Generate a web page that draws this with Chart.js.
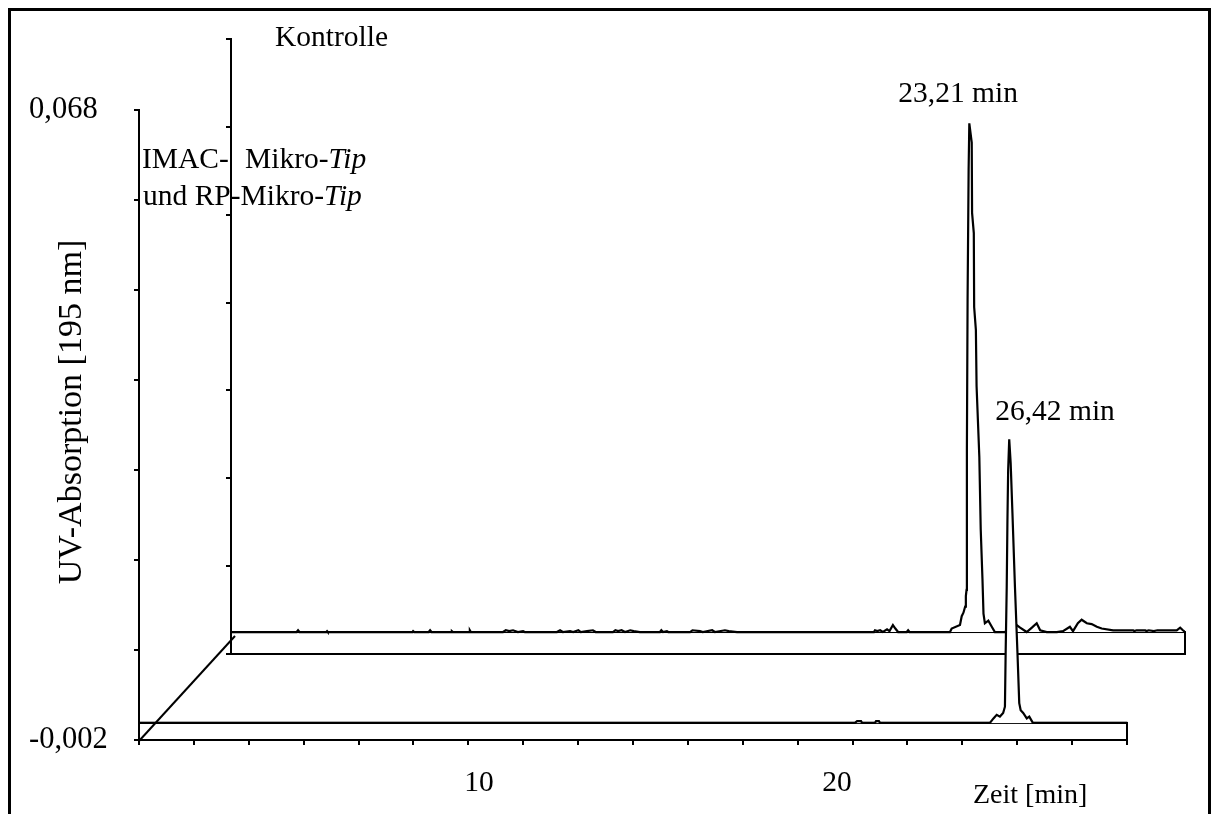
<!DOCTYPE html>
<html>
<head>
<meta charset="utf-8">
<script src="https://cdn.jsdelivr.net/npm/chart.js@4.4.0/dist/chart.umd.min.js"></script>
<style>
	html, body { margin: 0; padding: 0; background: #fff; overflow: hidden; }
	#frame { position: absolute; left: 8px; top: 8px; width: 1197px; height: 830px; border: 3px solid #000; }
	canvas { position: absolute; left: 0; top: 0; }
</style>
</head>
<body>
<div id="frame"></div>
<canvas id="chart-back" width="1215" height="814"></canvas>
<canvas id="chart-front" width="1215" height="814"></canvas>
<script>
// time axis (min) and absorption axis
const time_range = [0.5, 28.1];
const time_tick_intervals = 18;
const time_labels = [10, 20];
const abs_ticks = [-0.002, 0.008, 0.018, 0.028, 0.038, 0.048, 0.058, 0.068];
const abs_tick_labels = ['-0,002', '', '', '', '', '', '', '0,068'];

const y_title = 'UV-Absorption [195 nm]';
const x_title = 'Zeit [min]';
const peak_labels = ['23,21 min', '26,42 min'];

// baseline (ribbon top) of each trace
const kontrolle_base = 0.0005;
const imac_base = -0.0001;

// Kontrolle (back trace): [time, absorption]
const kontrolle_data = [
	[0.5, 0.0005], [2.40, 0.0005], [2.44, 0.0007], [2.48, 0.0005],
	[3.26, 0.0005], [3.28, 0.0006], [3.30, 0.0005],
	[5.75, 0.0005], [5.77, 0.0006], [5.80, 0.0005],
	[6.22, 0.0005], [6.26, 0.0007], [6.30, 0.0005],
	[6.87, 0.0005], [6.89, 0.0006], [6.92, 0.0005],
	[7.39, 0.0005], [7.41, 0.0007], [7.44, 0.0005],
	[8.37, 0.0005], [8.45, 0.0007], [8.55, 0.0006], [8.66, 0.0007], [8.80, 0.0005], [8.95, 0.0006], [9.00, 0.0005],
	[9.93, 0.0005], [10.02, 0.0007], [10.10, 0.0005], [10.31, 0.0006], [10.40, 0.0005], [10.55, 0.0007],
	[10.62, 0.0005], [10.80, 0.0006], [10.97, 0.0007], [11.05, 0.0005],
	[11.55, 0.0005], [11.62, 0.0007], [11.70, 0.0006], [11.80, 0.0007], [11.90, 0.0005], [12.05, 0.0007],
	[12.15, 0.0006], [12.33, 0.0005],
	[12.91, 0.0005], [12.95, 0.0007], [13.00, 0.0005], [13.11, 0.0006], [13.15, 0.0005],
	[13.78, 0.0005], [13.85, 0.0007], [14.07, 0.0006], [14.15, 0.0005], [14.42, 0.0007], [14.50, 0.0005],
	[14.79, 0.0007], [14.90, 0.0006], [15.14, 0.0005],
	[19.10, 0.0005], [19.13, 0.0007], [19.20, 0.0006], [19.28, 0.0007], [19.36, 0.0005], [19.48, 0.0008],
	[19.55, 0.0006], [19.65, 0.0013], [19.72, 0.0009], [19.80, 0.0005],
	[20.05, 0.0005], [20.09, 0.0007], [20.13, 0.0005],
	[21.30, 0.0005], [21.35, 0.0009], [21.59, 0.0013], [21.64, 0.0023], [21.69, 0.0027], [21.74, 0.0034],
	[21.76, 0.0046], [21.78, 0.0053], [21.79, 0.0212], [21.81, 0.0383], [21.84, 0.0531], [21.86, 0.0584],
	[21.93, 0.0562], [21.94, 0.0482], [21.99, 0.0459], [22.00, 0.0375], [22.05, 0.0349], [22.07, 0.0285],
	[22.15, 0.0204], [22.19, 0.0122], [22.24, 0.0066], [22.27, 0.0026], [22.31, 0.0015], [22.41, 0.0018],
	[22.51, 0.0011], [22.60, 0.0005],
	[22.89, 0.0005], [23.23, 0.0013], [23.33, 0.0010], [23.52, 0.0005], [23.67, 0.0010], [23.81, 0.0015],
	[23.91, 0.0007], [24.10, 0.0005], [24.39, 0.0005], [24.57, 0.0006], [24.77, 0.0011], [24.86, 0.0006],
	[25.00, 0.0015], [25.11, 0.0019], [25.26, 0.0015], [25.40, 0.0014], [25.55, 0.0011], [25.69, 0.0009],
	[26.02, 0.0007], [26.60, 0.0007], [26.63, 0.0006], [26.70, 0.0007], [26.95, 0.0007], [26.98, 0.0006],
	[27.05, 0.0007], [27.20, 0.0006], [27.30, 0.0007], [27.86, 0.0007], [27.96, 0.0010], [28.04, 0.0007],
	[28.10, 0.0005],
];

// IMAC- und RP-Mikro-Tip (front trace): [time, absorption]
const imac_data = [
	[0.5, -0.0001], [20.50, -0.0001], [20.56, 0.0001], [20.67, 0.0001], [20.70, -0.0001],
	[21.06, -0.0001], [21.09, 0.0001], [21.17, 0.0001], [21.20, -0.0001],
	[24.27, -0.0001], [24.37, 0.0004], [24.46, 0.0008], [24.55, 0.0006], [24.64, 0.0010], [24.69, 0.0017],
	[24.71, 0.0077], [24.74, 0.0150], [24.76, 0.0224], [24.78, 0.0280], [24.81, 0.0314],
	[24.85, 0.0288], [24.90, 0.0232], [24.97, 0.0150], [25.04, 0.0077], [25.09, 0.0021], [25.13, 0.0013],
	[25.20, 0.0010], [25.30, 0.0004], [25.37, 0.0006], [25.47, -0.0001], [28.10, -0.0001],
];

const serif = "'Liberation Serif', 'Times New Roman', serif";
Chart.defaults.font.family = serif;
Chart.defaults.font.size = 29.5;
Chart.defaults.color = '#000';

const time_ticks = [];
for (let i = 0; i <= time_tick_intervals; i++) {
	time_ticks.push(time_range[0] + i * (time_range[1] - time_range[0]) / time_tick_intervals);
}

function toPoints(arr) {
	return arr.map(([x, y]) => ({x, y}));
}

function peakOf(arr) {
	let best = arr[0];
	arr.forEach(p => { if (p[1] > best[1]) best = p; });
	return best;
}

// white ribbon under each trace (the 3d "floor")
const ribbonPlugin = {
	id: 'ribbon',
	beforeDatasetsDraw(chart, args, opts) {
		const {ctx, scales: {x, y}} = chart;
		const top = y.getPixelForValue(opts.base);
		const bottom = y.getPixelForValue(abs_ticks[0]);
		ctx.save();
		ctx.fillStyle = '#fff';
		ctx.strokeStyle = '#000';
		ctx.lineWidth = 2;
		ctx.fillRect(x.left, top, x.right - x.left, bottom - top);
		ctx.strokeRect(x.left, top, x.right - x.left, bottom - top);
		ctx.restore();
	}
};

function trace(label, arr, base) {
	return {
		label: label,
		data: toPoints(arr),
		borderColor: '#000',
		borderWidth: 2.2,
		backgroundColor: '#fff',
		fill: {value: base},
		pointRadius: 0,
		tension: 0
	};
}

function yScale(width, labels) {
	return {
		type: 'linear',
		min: abs_ticks[0],
		max: abs_ticks[abs_ticks.length - 1],
		afterBuildTicks: s => { s.ticks = abs_ticks.map(v => ({value: v})); },
		afterFit: s => { s.width = width; },
		grid: {drawOnChartArea: false, tickLength: 5, color: '#000', lineWidth: 2},
		border: {color: '#000', width: 2},
		ticks: labels ? {
			crossAlign: 'far',
			padding: 4,
			font: {size: 30.5},
			callback: (v, i) => abs_tick_labels[i]
		} : {display: false},
	};
}

const backChart = new Chart(document.getElementById('chart-back'), {
	type: 'line',
	data: {datasets: [trace('Kontrolle', kontrolle_data, kontrolle_base)]},
	options: {
		responsive: false,
		animation: false,
		events: [],
		layout: {padding: {left: 225, top: 39, right: 30, bottom: 160}},
		plugins: {legend: {display: false}, tooltip: {enabled: false}, ribbon: {base: kontrolle_base}},
		scales: {
			x: {
				type: 'linear',
				min: time_range[0],
				max: time_range[1],
				afterFit: s => { s.height = 0; },
				grid: {display: false},
				border: {color: '#000', width: 2},
				ticks: {display: false}
			},
			y: yScale(6, false)
		}
	},
	plugins: [ribbonPlugin, {
		id: 'backText',
		afterDraw(chart) {
			const {ctx, scales: {x, y}} = chart;
			const pk = peakOf(kontrolle_data);
			ctx.save();
			ctx.font = '29.5px ' + serif;
			ctx.fillStyle = '#000';
			ctx.fillText('Kontrolle', y.right + 44, 46);
			ctx.fillText(peak_labels[0], x.getPixelForValue(pk[0]) - 71, y.getPixelForValue(pk[1]) - 21);
			ctx.restore();
		}
	}]
});

const frontChart = new Chart(document.getElementById('chart-front'), {
	type: 'line',
	data: {datasets: [trace('IMAC- und RP-Mikro-Tip', imac_data, imac_base)]},
	options: {
		responsive: false,
		animation: false,
		events: [],
		layout: {padding: {left: 29, top: 110, right: 88, bottom: 0}},
		plugins: {legend: {display: false}, tooltip: {enabled: false}, ribbon: {base: imac_base}},
		scales: {
			x: {
				type: 'linear',
				min: time_range[0],
				max: time_range[1],
				afterBuildTicks: s => { s.ticks = time_ticks.map(v => ({value: v})); },
				afterFit: s => { s.height = 5; },
				grid: {drawOnChartArea: false, tickLength: 5, color: '#000', lineWidth: 2},
				border: {color: '#000', width: 2},
				ticks: {display: false}
			},
			xl: {
				type: 'linear',
				position: 'bottom',
				weight: 1,
				min: time_range[0],
				max: time_range[1],
				afterBuildTicks: s => { s.ticks = time_labels.map(v => ({value: v})); },
				afterFit: s => { s.height = 69; },
				grid: {display: false},
				border: {display: false},
				ticks: {padding: 13, callback: v => String(v)}
			},
			y: yScale(110, true)
		}
	},
	plugins: [ribbonPlugin, {
		id: 'frontText',
		afterDraw(chart) {
			const {ctx, scales: {x, y}} = chart;
			const bx = backChart.scales.x, by = backChart.scales.y;
			ctx.save();
			// depth line joining the two origins
			ctx.strokeStyle = '#000';
			ctx.lineWidth = 2;
			ctx.beginPath();
			ctx.moveTo(x.left, y.bottom + 1);
			ctx.lineTo(bx.left + 4, by.getPixelForValue(kontrolle_base) + 4);
			ctx.stroke();

			ctx.fillStyle = '#000';
			function rich(parts, px, py) {
				parts.forEach(([txt, italic]) => {
					ctx.font = (italic ? 'italic ' : '') + '29.5px ' + serif;
					ctx.fillText(txt, px, py);
					px += ctx.measureText(txt).width;
				});
			}
			rich([['IMAC-', false]], x.left + 3, 168);
			rich([['Mikro-', false], ['Tip', true]], x.left + 106, 168);
			rich([['und RP-Mikro-', false], ['Tip', true]], x.left + 4, 205);

			ctx.font = '29.5px ' + serif;
			const pk = peakOf(imac_data);
			ctx.fillText(peak_labels[1], x.getPixelForValue(pk[0]) - 14, y.getPixelForValue(pk[1]) - 19);
			ctx.font = '28px ' + serif;
			ctx.fillText(x_title, x.right - 154, 803);

			// rotated axis title
			ctx.font = '34px ' + serif;
			ctx.textAlign = 'center';
			ctx.textBaseline = 'middle';
			ctx.translate(72, (y.top + y.bottom) / 2 - 13);
			ctx.rotate(-Math.PI / 2);
			ctx.fillText(y_title, 0, 0);
			ctx.restore();
		}
	}]
});
</script>
</body>
</html>
